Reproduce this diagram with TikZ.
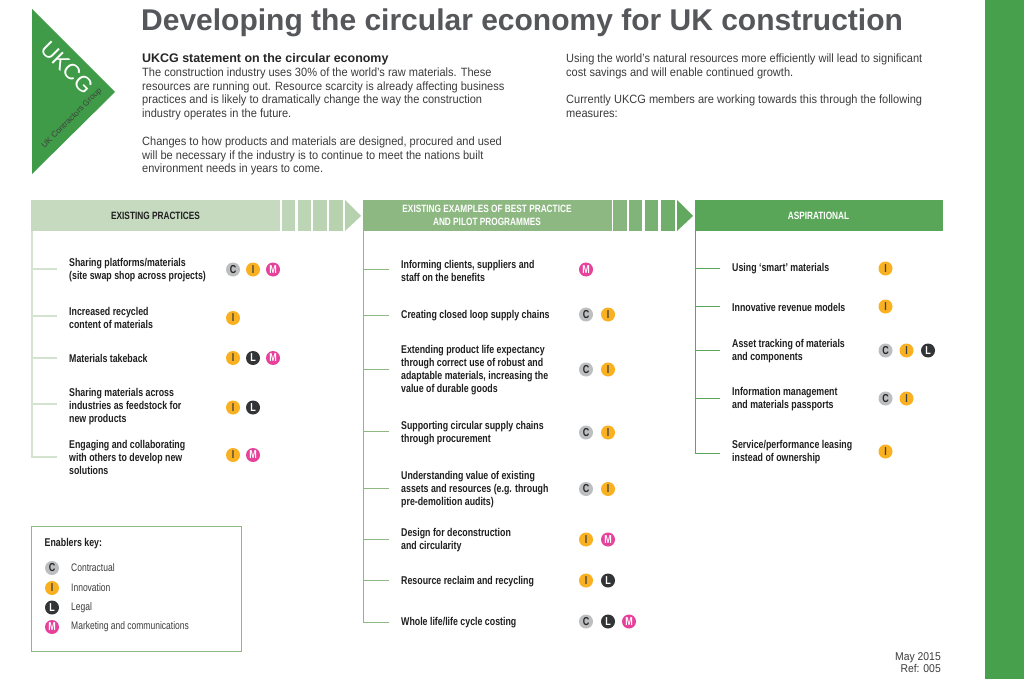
\documentclass[tikz,border=0pt]{standalone}
\usepackage{fontspec}
\setmainfont{Liberation Sans}
\newfontfamily\cond[FakeStretch=0.78]{Liberation Sans}
\newfontfamily\bodyf[FakeStretch=0.92]{Liberation Sans}
\definecolor{gA}{HTML}{C5DABF}
\definecolor{gB}{HTML}{8DB882}
\definecolor{gC}{HTML}{5AA659}
\definecolor{gBar}{HTML}{46A04C}
\definecolor{gLogo}{HTML}{3F9B47}
\definecolor{tx}{HTML}{3C3C3C}
\definecolor{titlec}{HTML}{55575A}
\definecolor{bC}{HTML}{BDBEC0}
\definecolor{bI}{HTML}{F9B122}
\definecolor{bL}{HTML}{333436}
\definecolor{bM}{HTML}{E6429B}
\tikzset{x=1pt,y=-1pt,
 badge/.style={circle,minimum size=14pt,inner sep=0pt,font=\cond\bfseries\fontsize{11.5}{11.5}\selectfont},
 bdgC/.style={badge,fill=bC,text=black!85},
 bdgI/.style={badge,fill=bI,text=black!75},
 bdgL/.style={badge,fill=bL,text=white},
 bdgM/.style={badge,fill=bM,text=white},
 item/.style={anchor=west,yshift=-1pt,inner sep=0pt,align=left,text=black!88,font=\cond\bfseries\fontsize{11.3}{13}\selectfont},
 body/.style={anchor=north west,inner sep=0pt,align=left,text=tx,font=\bodyf\fontsize{12}{13.8}\selectfont},
 head/.style={inner sep=0pt,align=center,font=\cond\bfseries\fontsize{10.6}{13}\selectfont},
 keyt/.style={anchor=west,inner sep=0pt,text=tx,font=\cond\fontsize{10.9}{13}\selectfont},
 stubA/.style={line width=1.2pt,gA!75!white},
 stubB/.style={line width=1pt,gB},
 stubC/.style={line width=1pt,gC},
}
% \rowitem{name}{trunk x}{stub y}{text x}{text y}{text}{stub style}
\newcommand{\rowitem}[7]{%
 \node[item] (#1) at (#4,#5) {#6};
 \coordinate (#1s) at (#2+25,#3);
 \coordinate (#1t) at (#2,#3);
 \draw[#7] (#1t) -- (#1s);
}
\newcommand{\bdg}[4]{\node[bdg#2] (#1) at (#3,#4) {#2};}
\begin{document}
\begin{tikzpicture}
\useasboundingbox (0,0) rectangle (1024,679);
\fill[white] (0,0) rectangle (1024,679);
\node[fill=gBar,minimum width=39pt,minimum height=679pt,inner sep=0pt,anchor=north west] (bar) at (985,0) {};
% logo
\fill[gLogo] (32,9) -- (115,92) -- (32,174) -- cycle;
\node[rotate=-45,text=white,inner sep=0pt,font=\fontsize{22}{23}\selectfont] (ukcg) at (67,67.5) {UKCG};
\node[rotate=45,text=black!75,inner sep=0pt,font=\fontsize{8.2}{9}\selectfont] (ukcg2) at (72,118.5) {UK Contractors Group};
% title
\node[anchor=base west,inner sep=0pt,text=titlec,font=\bfseries\fontsize{30}{30}\selectfont] (title) at (141,30.5) {Developing the circular economy for UK construction};
\node[anchor=north west,inner sep=0pt,text=black!85,font=\bfseries\fontsize{12.45}{14}\selectfont] (sub) at (142,53) {UKCG statement on the circular economy};
\node[body] (b1) at (142,67.5) {The construction industry uses 30\% of the world’s raw materials. These\\resources are running out. Resource scarcity is already affecting business\\practices and is likely to dramatically change the way the construction\\industry operates in the future.\\[13.8pt]Changes to how products and materials are designed, procured and used\\will be necessary if the industry is to continue to meet the nations built\\environment needs in years to come.};
\node[body] (b2) at (566,53.5) {Using the world’s natural resources more efficiently will lead to significant\\cost savings and will enable continued growth.\\[13.8pt]Currently UKCG members are working towards this through the following\\measures:};
% headers
\node[fill=gA,minimum width=249pt,minimum height=31pt,inner sep=0pt,anchor=north west] (h1) at (31,200) {};
\node[head,text=black!88] (h1t) at (155.5,215.5) {EXISTING PRACTICES};
\foreach \xa/\xb/\c in {282/295/88,298/311/84,313/327/80,329/343/76}{\fill[gA!\c!gB] (\xa,200) rectangle (\xb,231);}
\fill[gA!72!gB] (345,200) -- (361,216) -- (345,231) -- cycle;
\node[fill=gB,minimum width=248.5pt,minimum height=31pt,inner sep=0pt,anchor=north west] (h2) at (363,200) {};
\node[head,text=white] (h2t) at (487,215.5) {EXISTING EXAMPLES OF BEST PRACTICE\\AND PILOT PROGRAMMES};
\foreach \xa/\xb/\c in {613/627/90,629/642/75,645/658/60,661/675/45}{\fill[gB!\c!gC] (\xa,200) rectangle (\xb,231);}
\fill[gB!15!gC] (677,200) -- (693,216) -- (677,231) -- cycle;
\node[fill=gC,minimum width=248.5pt,minimum height=31pt,inner sep=0pt,anchor=north west] (h3) at (694.5,200) {};
\node[head,text=white] (h3t) at (818.5,215.5) {ASPIRATIONAL};
% trunks
\coordinate (t1a) at (32,231); \coordinate (t1b) at (32,457.6);
\coordinate (t2a) at (363.5,231); \coordinate (t2b) at (363.5,622.5);
\coordinate (t3a) at (695,231); \coordinate (t3b) at (695,453.5);
\draw[stubA] (t1a) -- (t1b);
\draw[stubB] (t2a) -- (t2b);
\draw[stubC] (t3a) -- (t3b);
% col 1
\rowitem{a1}{32}{269}{69}{269.5}{Sharing platforms/materials\\(site swap shop across projects)}{stubA}
\rowitem{a2}{32}{316}{69}{316.5}{Increased recycled\\content of materials}{stubA}
\rowitem{a3}{32}{358}{69}{357}{Materials takeback}{stubA}
\rowitem{a4}{32}{404}{69}{405.5}{Sharing materials across\\industries as feedstock for\\new products}{stubA}
\rowitem{a5}{32}{457}{69}{456}{Engaging and collaborating\\with others to develop new\\solutions}{stubA}
\bdg{a1c}{C}{233}{269.5}\bdg{a1i}{I}{253}{269.5}\bdg{a1m}{M}{273}{269.5}
\bdg{a2i}{I}{233}{318}
\bdg{a3i}{I}{233}{358}\bdg{a3l}{L}{253}{358}\bdg{a3m}{M}{273}{358}
\bdg{a4i}{I}{233}{407.5}\bdg{a4l}{L}{253}{407.5}
\bdg{a5i}{I}{233}{455}\bdg{a5m}{M}{253}{455}
% col 2
\rowitem{m1}{363.5}{269}{401}{269.5}{Informing clients, suppliers and\\staff on the benefits}{stubB}
\rowitem{m2}{363.5}{315}{401}{314.5}{Creating closed loop supply chains}{stubB}
\rowitem{m3}{363.5}{369}{401}{369}{Extending product life expectancy\\through correct use of robust and\\adaptable materials, increasing the\\value of durable goods}{stubB}
\rowitem{m4}{363.5}{431.5}{401}{432}{Supporting circular supply chains\\through procurement}{stubB}
\rowitem{m5}{363.5}{488}{401}{488.5}{Understanding value of existing\\assets and resources (e.g. through\\pre-demolition audits)}{stubB}
\rowitem{m6}{363.5}{539}{401}{539}{Design for deconstruction\\and circularity}{stubB}
\rowitem{m7}{363.5}{580}{401}{580.5}{Resource reclaim and recycling}{stubB}
\rowitem{m8}{363.5}{622}{401}{621.5}{Whole life/life cycle costing}{stubB}
\bdg{m1m}{M}{586}{269.5}
\bdg{m2c}{C}{586}{314.5}\bdg{m2i}{I}{608}{314.5}
\bdg{m3c}{C}{586}{369.5}\bdg{m3i}{I}{608}{369.5}
\bdg{m4c}{C}{586}{432.5}\bdg{m4i}{I}{608}{432.5}
\bdg{m5c}{C}{586}{489}\bdg{m5i}{I}{608}{489}
\bdg{m6i}{I}{586}{539.5}\bdg{m6m}{M}{608}{539.5}
\bdg{m7i}{I}{586}{580.5}\bdg{m7l}{L}{608}{580.5}
\bdg{m8c}{C}{586}{621.5}\bdg{m8l}{L}{608}{621.5}\bdg{m8m}{M}{629}{621.5}
% col 3
\rowitem{r1}{695}{268}{732}{268}{Using ‘smart’ materials}{stubC}
\rowitem{r2}{695}{306.5}{732}{306.5}{Innovative revenue models}{stubC}
\rowitem{r3}{695}{350}{732}{350.5}{Asset tracking of materials\\and components}{stubC}
\rowitem{r4}{695}{398}{732}{398.5}{Information management\\and materials passports}{stubC}
\rowitem{r5}{695}{453}{732}{451}{Service/performance leasing\\instead of ownership}{stubC}
\bdg{r1i}{I}{885.5}{268.5}
\bdg{r2i}{I}{885.5}{306.5}
\bdg{r3c}{C}{885.5}{350.5}\bdg{r3i}{I}{906.5}{350.5}\bdg{r3l}{L}{928}{350.5}
\bdg{r4c}{C}{885.5}{398.5}\bdg{r4i}{I}{906.5}{398.5}
\bdg{r5i}{I}{885.5}{451.5}
% key
\node[draw=gB,line width=1pt,minimum width=209.5pt,minimum height=125pt,inner sep=0pt,anchor=north west] (key) at (31,526) {};
\node[anchor=west,inner sep=0pt,text=black!88,font=\cond\bfseries\fontsize{11.3}{13}\selectfont] (keyh) at (44.5,544) {Enablers key:};
\bdg{kc}{C}{52}{568}\bdg{ki}{I}{52}{588}\bdg{kl}{L}{52}{607.5}\bdg{km}{M}{52}{627}
\node[keyt] (kct) at (71,568) {Contractual};
\node[keyt] (kit) at (71,588) {Innovation};
\node[keyt] (klt) at (71,607.5) {Legal};
\node[keyt] (kmt) at (71,627) {Marketing and communications};
% date
\node[anchor=north east,inner sep=0pt,align=right,text=tx,font=\bodyf\fontsize{11.3}{12.5}\selectfont] (date) at (941,652) {May 2015\\Ref: 005};
\end{tikzpicture}
\end{document}
